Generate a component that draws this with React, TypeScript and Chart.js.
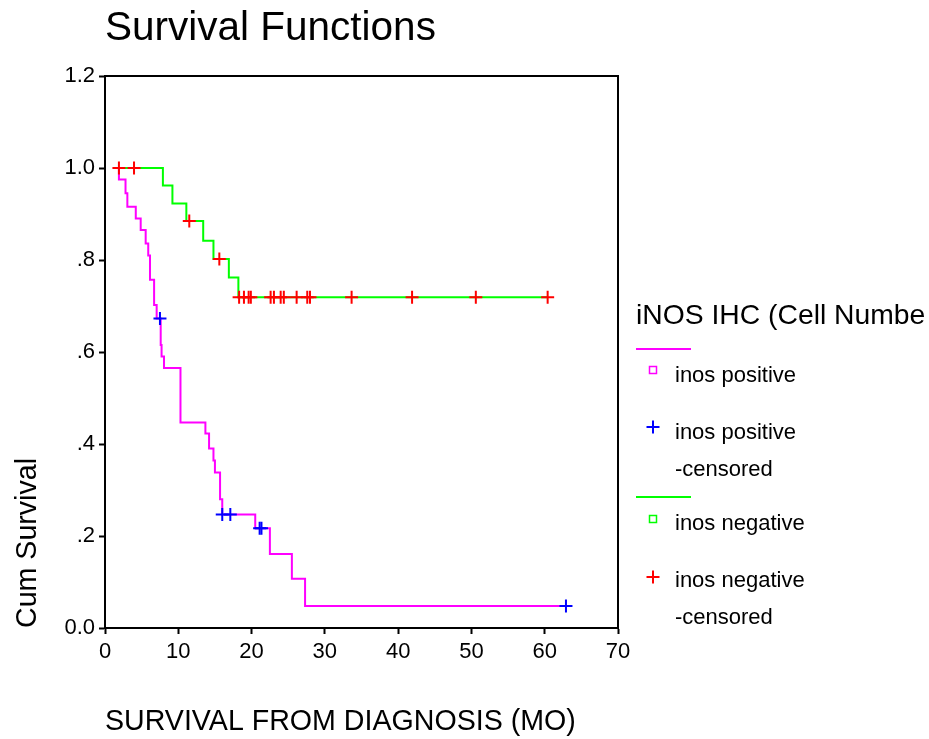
import React, { useEffect, useRef } from "react";
import { Chart, registerables } from "chart.js";

Chart.register(...registerables);

// ---- Data ----
// inos positive: Kaplan-Meier step curve (time in months, cumulative survival after the step)
const posTimes = [1.9, 1.9, 2.8, 3.05, 4.2, 4.87, 5.55, 5.9, 6.14, 6.7, 7.05, 7.6, 7.72, 8.05, 10.3, 13.7, 14.2, 14.8, 15.0, 15.7, 16.0, 20.5, 22.5, 25.5, 27.3];
const posSurv = [1.0, 0.975, 0.945, 0.916, 0.89, 0.865, 0.836, 0.81, 0.757, 0.702, 0.673, 0.615, 0.59, 0.565, 0.447, 0.423, 0.39, 0.364, 0.338, 0.28, 0.247, 0.217, 0.161, 0.107, 0.048];
const posCensored = [7.5, 16.0, 17.1, 21.1, 21.35, 62.9];

// inos negative
const negTimes = [1.9, 7.9, 9.2, 11.1, 13.4, 14.8, 16.9, 18.2];
const negSurv = [1.0, 0.962, 0.923, 0.885, 0.842, 0.802, 0.762, 0.719];
const negCensored = [1.9, 3.96, 11.5, 15.6, 18.3, 18.96, 19.6, 19.9, 22.6, 23.05, 23.97, 24.4, 26.15, 27.6, 27.97, 33.65, 41.9, 50.6, 60.4];

const yTickLabels = ["0.0", ".2", ".4", ".6", ".8", "1.0", "1.2"];

const chartTitle = "Survival Functions";
const xTitle = "SURVIVAL FROM DIAGNOSIS (MO)";
const yTitle = "Cum Survival";
const legendTitle = "iNOS IHC (Cell Numbe";
const seriesNames = ["inos positive", "inos negative"];

const FONT = '"Liberation Sans", Arial, Helvetica, sans-serif';
const PINK = "#ff00ff";
const GREEN = "#00ff00";
const BLUE = "#0000ff";
const RED = "#ff0000";

function survivalAt(times: number[], surv: number[], t: number) {
  let s = surv[0];
  for (let i = 0; i < times.length; i++) if (times[i] <= t) s = surv[i];
  return s;
}

function curvePoints(times: number[], surv: number[], censored: number[]) {
  const pts = times.map((t, i) => ({ x: t, y: surv[i] }));
  const lastC = Math.max(...censored);
  if (lastC > times[times.length - 1]) pts.push({ x: lastC, y: surv[surv.length - 1] });
  return pts;
}

function censorPoints(times: number[], surv: number[], censored: number[]) {
  return censored.map((t) => ({ x: t, y: survivalAt(times, surv, t) }));
}

const decorPlugin = {
  id: "decor",
  beforeDatasetsDraw(chart: any) {
    const { ctx, chartArea } = chart;
    ctx.save();
    ctx.strokeStyle = "#000";
    ctx.lineWidth = 2;
    ctx.beginPath();
    ctx.moveTo(chartArea.left, chartArea.top);
    ctx.lineTo(chartArea.right, chartArea.top);
    ctx.lineTo(chartArea.right, chartArea.bottom);
    ctx.stroke();
    ctx.restore();
  },
  afterDraw(chart: any) {
    const { ctx, chartArea } = chart;
    ctx.save();
    ctx.fillStyle = "#000";
    ctx.textBaseline = "middle";
    ctx.textAlign = "left";
    // Title
    ctx.font = `40.5px ${FONT}`;
    ctx.fillText(chartTitle, chartArea.left, 29);

    // Legend
    const lx = 636;
    ctx.font = `28.3px ${FONT}`;
    ctx.fillText(legendTitle, lx, 316);

    const drawLine = (y: number, color: string) => {
      ctx.strokeStyle = color;
      ctx.lineWidth = 2;
      ctx.beginPath();
      ctx.moveTo(lx, y);
      ctx.lineTo(lx + 55, y);
      ctx.stroke();
    };
    const drawSquare = (cx: number, cy: number, color: string) => {
      ctx.strokeStyle = color;
      ctx.lineWidth = 1.5;
      ctx.strokeRect(cx - 3.5, cy - 3.5, 7, 7);
    };
    const drawCross = (cx: number, cy: number, color: string) => {
      ctx.strokeStyle = color;
      ctx.lineWidth = 2;
      ctx.beginPath();
      ctx.moveTo(cx - 6.5, cy);
      ctx.lineTo(cx + 6.5, cy);
      ctx.moveTo(cx, cy - 6.5);
      ctx.lineTo(cx, cy + 6.5);
      ctx.stroke();
    };
    const tx = 675;
    ctx.font = `22px ${FONT}`;
    drawLine(349, PINK);
    drawSquare(653, 370, PINK);
    ctx.fillText(seriesNames[0], tx, 376);
    drawCross(653, 427, BLUE);
    ctx.fillText(seriesNames[0], tx, 433);
    ctx.fillText("-censored", tx, 470);
    drawLine(497, GREEN);
    drawSquare(653, 519, GREEN);
    ctx.fillText(seriesNames[1], tx, 524);
    drawCross(653, 577, RED);
    ctx.fillText(seriesNames[1], tx, 581);
    ctx.fillText("-censored", tx, 618);
    ctx.restore();
  },
};

export default function App() {
  const ref = useRef<HTMLCanvasElement | null>(null);
  useEffect(() => {
    if (!ref.current) return;
    const chart = new Chart(ref.current, {
      type: "line",
      data: {
        datasets: [
          {
            label: seriesNames[0] + " -censored",
            data: censorPoints(posTimes, posSurv, posCensored),
            showLine: false,
            pointStyle: "cross",
            pointRadius: 6.5,
            pointBorderWidth: 2,
            pointBorderColor: BLUE,
            borderColor: BLUE,
            order: 0,
          },
          {
            label: seriesNames[1] + " -censored",
            data: censorPoints(negTimes, negSurv, negCensored),
            showLine: false,
            pointStyle: "cross",
            pointRadius: 6.5,
            pointBorderWidth: 2,
            pointBorderColor: RED,
            borderColor: RED,
            order: 0,
          },
          {
            label: seriesNames[0],
            data: curvePoints(posTimes, posSurv, posCensored),
            stepped: "before",
            borderColor: PINK,
            borderWidth: 2,
            pointRadius: 0,
            fill: false,
            order: 1,
          },
          {
            label: seriesNames[1],
            data: curvePoints(negTimes, negSurv, negCensored),
            stepped: "before",
            borderColor: GREEN,
            borderWidth: 2,
            pointRadius: 0,
            fill: false,
            order: 1,
          },
        ],
      },
      options: {
        responsive: false,
        animation: false,
        devicePixelRatio: 1,
        layout: { padding: { top: 76, right: 311, left: 0, bottom: 0 } },
        plugins: {
          legend: { display: false },
          tooltip: { enabled: false },
          title: { display: false },
        },
        scales: {
          x: {
            type: "linear",
            min: 0,
            max: 70,
            ticks: { stepSize: 10, color: "#000", font: { family: FONT, size: 22 }, padding: 5 },
            grid: { drawOnChartArea: false, drawTicks: true, tickLength: 6, tickColor: "#000", tickWidth: 2 },
            border: { display: true, color: "#000", width: 2 },
            title: {
              display: true,
              text: xTitle,
              align: "start",
              color: "#000",
              font: { family: FONT, size: 28.6 },
              padding: { top: 0, bottom: 0 },
            },
            afterFit: (scale: any) => {
              scale.height = 111;
            },
          },
          y: {
            type: "linear",
            min: 0,
            max: 1.2,
            ticks: {
              stepSize: 0.2,
              color: "#000",
              font: { family: FONT, size: 22 },
              padding: 4,
              callback: (_v: any, i: number) => yTickLabels[i],
            },
            grid: { drawOnChartArea: false, drawTicks: true, tickLength: 6, tickColor: "#000", tickWidth: 2 },
            border: { display: true, color: "#000", width: 2 },
            title: {
              display: true,
              text: yTitle,
              align: "start",
              color: "#000",
              font: { family: FONT, size: 28.6 },
              padding: { top: 11, bottom: 0 },
            },
            afterFit: (scale: any) => {
              scale.width = 105;
            },
          },
        },
      } as any,
      plugins: [decorPlugin],
    });
    return () => chart.destroy();
  }, []);
  return (
    <div style={{ position: "absolute", left: 0, top: 0, width: 929, height: 739, background: "#fff" }}>
      <canvas ref={ref} width={929} height={739} style={{ display: "block" }} />
    </div>
  );
}
